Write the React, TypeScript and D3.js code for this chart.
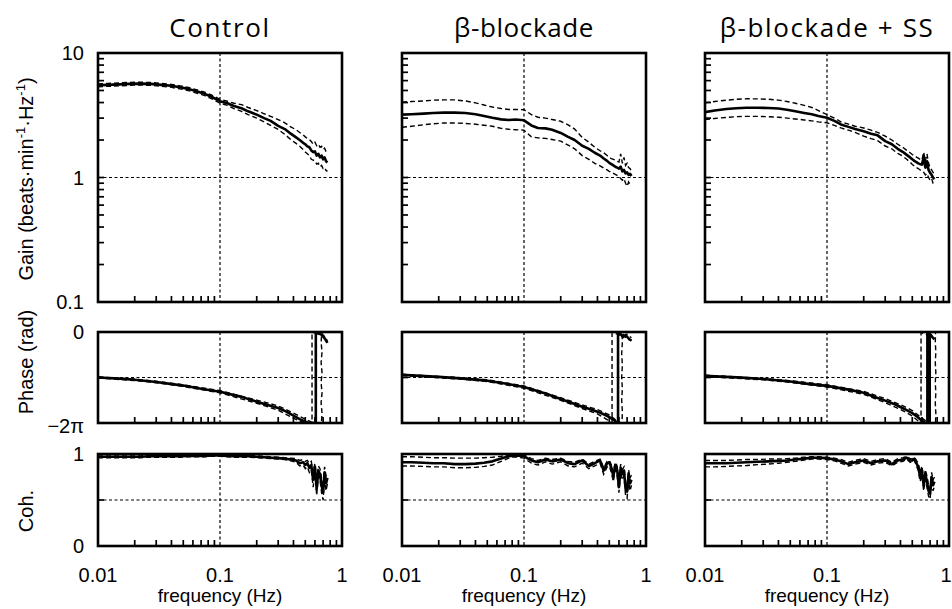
import React from 'react';
import * as d3 from 'd3';

// ---------------- data ----------------
const titles = ['Control', 'β-blockade', 'β-blockade + SS'];

const freq = [0.01, 0.012, 0.015, 0.018, 0.022, 0.027, 0.033, 0.04, 0.047, 0.055, 0.065, 0.075, 0.085, 0.1, 0.115, 0.13, 0.15, 0.17, 0.2, 0.23, 0.26, 0.3, 0.34, 0.38, 0.42, 0.45, 0.48, 0.5, 0.52, 0.54, 0.56, 0.58, 0.6, 0.62, 0.64, 0.66, 0.68, 0.7, 0.72, 0.74, 0.76];

// Gain (beats·min-1·Hz-1)
const gainControlMean = [5.5, 5.55, 5.6, 5.65, 5.68, 5.65, 5.55, 5.45, 5.3, 5.15, 4.9, 4.7, 4.45, 4.1, 3.95, 3.75, 3.6, 3.4, 3.2, 3.0, 2.85, 2.6, 2.45, 2.25, 2.1, 2.0, 1.9, 1.85, 1.78, 1.75, 1.65, 1.6, 1.62, 1.5, 1.55, 1.45, 1.5, 1.4, 1.45, 1.35, 1.32];
const gainControlHi = [5.65, 5.7, 5.75, 5.8, 5.83, 5.8, 5.7, 5.6, 5.45, 5.3, 5.05, 4.85, 4.6, 4.25, 4.1, 3.95, 3.85, 3.65, 3.45, 3.25, 3.1, 2.92, 2.75, 2.55, 2.42, 2.3, 2.2, 2.12, 2.05, 2.02, 1.95, 1.85, 1.92, 1.8, 1.85, 1.75, 1.78, 1.68, 1.72, 1.62, 1.6];
const gainControlLo = [5.35, 5.4, 5.45, 5.5, 5.53, 5.5, 5.4, 5.3, 5.15, 5.0, 4.75, 4.55, 4.3, 3.95, 3.8, 3.58, 3.4, 3.2, 3.0, 2.8, 2.62, 2.43, 2.22, 2.02, 1.88, 1.78, 1.68, 1.6, 1.55, 1.5, 1.4, 1.38, 1.36, 1.28, 1.3, 1.22, 1.25, 1.18, 1.2, 1.14, 1.12];

const gainBetaMean = [3.2, 3.22, 3.26, 3.3, 3.32, 3.32, 3.3, 3.22, 3.12, 3.02, 2.93, 2.9, 2.92, 2.88, 2.62, 2.5, 2.48, 2.42, 2.28, 2.12, 2.0, 1.8, 1.7, 1.58, 1.5, 1.42, 1.36, 1.31, 1.28, 1.25, 1.22, 1.2, 1.18, 1.22, 1.12, 1.15, 1.08, 1.1, 1.05, 1.07, 1.03];
const gainBetaHi = [4.03, 4.08, 4.12, 4.18, 4.2, 4.2, 4.12, 3.98, 3.82, 3.68, 3.58, 3.52, 3.52, 3.5, 3.2, 3.05, 3.0, 2.92, 2.83, 2.65, 2.45, 2.1, 1.92, 1.75, 1.64, 1.58, 1.5, 1.45, 1.42, 1.4, 1.38, 1.35, 1.33, 1.55, 1.3, 1.45, 1.25, 1.3, 1.2, 1.18, 1.12];
const gainBetaLo = [2.53, 2.58, 2.65, 2.7, 2.74, 2.74, 2.72, 2.68, 2.63, 2.58, 2.48, 2.44, 2.42, 2.4, 2.12, 2.08, 2.06, 2.02, 1.96, 1.82, 1.7, 1.5, 1.4, 1.3, 1.24, 1.19, 1.15, 1.12, 1.1, 1.08, 1.06, 1.04, 1.02, 0.98, 0.95, 0.98, 0.9, 0.85, 0.92, 0.88, 0.9];

const gainSSMean = [3.35, 3.45, 3.55, 3.6, 3.63, 3.63, 3.62, 3.58, 3.5, 3.4, 3.3, 3.22, 3.12, 3.02, 2.85, 2.67, 2.55, 2.45, 2.35, 2.25, 2.18, 1.96, 1.85, 1.7, 1.6, 1.52, 1.45, 1.4, 1.36, 1.33, 1.3, 1.28, 1.27, 1.45, 1.2, 1.35, 1.15, 1.09, 1.05, 1.0, 0.97];
const gainSSHi = [3.98, 4.08, 4.18, 4.25, 4.29, 4.28, 4.25, 4.18, 4.08, 3.95, 3.8, 3.65, 3.45, 3.2, 3.0, 2.8, 2.68, 2.58, 2.5, 2.4, 2.3, 2.15, 2.0, 1.85, 1.74, 1.65, 1.58, 1.53, 1.49, 1.46, 1.43, 1.4, 1.38, 1.6, 1.35, 1.55, 1.3, 1.2, 1.15, 1.1, 1.05];
const gainSSLo = [2.92, 2.98, 3.04, 3.08, 3.1, 3.1, 3.08, 3.05, 3.0, 2.95, 2.9, 2.85, 2.8, 2.75, 2.62, 2.5, 2.4, 2.3, 2.15, 2.05, 1.98, 1.79, 1.7, 1.56, 1.48, 1.4, 1.33, 1.27, 1.24, 1.2, 1.18, 1.15, 1.13, 1.1, 1.05, 1.08, 1.0, 0.95, 0.98, 0.9, 0.85];

// Coherence
const cohControlMean = [0.97, 0.97, 0.97, 0.97, 0.97, 0.975, 0.975, 0.975, 0.975, 0.98, 0.98, 0.98, 0.985, 0.985, 0.98, 0.975, 0.975, 0.975, 0.97, 0.965, 0.96, 0.955, 0.95, 0.94, 0.93, 0.9, 0.91, 0.88, 0.9, 0.85, 0.88, 0.72, 0.86, 0.62, 0.82, 0.78, 0.66, 0.58, 0.8, 0.68, 0.74];
const cohControlHi = [0.98, 0.98, 0.98, 0.98, 0.98, 0.985, 0.985, 0.985, 0.985, 0.99, 0.99, 0.99, 0.995, 0.995, 0.99, 0.985, 0.985, 0.985, 0.98, 0.975, 0.97, 0.965, 0.96, 0.955, 0.95, 0.93, 0.94, 0.92, 0.93, 0.9, 0.92, 0.8, 0.9, 0.7, 0.87, 0.84, 0.74, 0.68, 0.86, 0.76, 0.8];
const cohControlLo = [0.96, 0.96, 0.96, 0.96, 0.96, 0.965, 0.965, 0.965, 0.965, 0.97, 0.97, 0.97, 0.975, 0.975, 0.97, 0.965, 0.965, 0.965, 0.96, 0.955, 0.95, 0.945, 0.94, 0.925, 0.91, 0.87, 0.88, 0.84, 0.86, 0.8, 0.83, 0.64, 0.8, 0.55, 0.76, 0.72, 0.58, 0.5, 0.74, 0.6, 0.68];

const cohBetaMean = [0.91, 0.91, 0.905, 0.9, 0.9, 0.89, 0.89, 0.895, 0.905, 0.92, 0.95, 0.975, 0.985, 0.975, 0.93, 0.91, 0.94, 0.92, 0.94, 0.9, 0.89, 0.93, 0.87, 0.9, 0.93, 0.82, 0.9, 0.91, 0.85, 0.76, 0.88, 0.83, 0.64, 0.85, 0.78, 0.82, 0.62, 0.59, 0.78, 0.68, 0.72];
const cohBetaHi = [0.97, 0.97, 0.965, 0.96, 0.96, 0.955, 0.955, 0.955, 0.96, 0.965, 0.975, 0.99, 0.995, 0.99, 0.95, 0.93, 0.955, 0.94, 0.955, 0.92, 0.91, 0.945, 0.89, 0.92, 0.945, 0.85, 0.92, 0.93, 0.88, 0.8, 0.91, 0.87, 0.7, 0.89, 0.83, 0.86, 0.68, 0.66, 0.83, 0.74, 0.77];
const cohBetaLo = [0.87, 0.87, 0.865, 0.86, 0.86, 0.85, 0.85, 0.855, 0.865, 0.88, 0.92, 0.955, 0.97, 0.955, 0.9, 0.88, 0.915, 0.89, 0.915, 0.87, 0.86, 0.9, 0.84, 0.87, 0.9, 0.78, 0.86, 0.87, 0.8, 0.7, 0.83, 0.77, 0.58, 0.8, 0.72, 0.76, 0.55, 0.52, 0.72, 0.6, 0.66];

const cohSSMean = [0.9, 0.9, 0.9, 0.905, 0.91, 0.915, 0.92, 0.925, 0.93, 0.94, 0.95, 0.96, 0.96, 0.955, 0.94, 0.92, 0.89, 0.91, 0.93, 0.9, 0.92, 0.93, 0.89, 0.93, 0.94, 0.96, 0.93, 0.93, 0.95, 0.9, 0.86, 0.75, 0.82, 0.66, 0.78, 0.7, 0.6, 0.57, 0.75, 0.66, 0.7];
const cohSSHi = [0.93, 0.93, 0.93, 0.935, 0.94, 0.94, 0.945, 0.945, 0.95, 0.955, 0.965, 0.97, 0.97, 0.965, 0.955, 0.94, 0.91, 0.93, 0.95, 0.92, 0.94, 0.95, 0.91, 0.95, 0.96, 0.975, 0.95, 0.95, 0.965, 0.93, 0.9, 0.8, 0.87, 0.72, 0.83, 0.76, 0.66, 0.63, 0.8, 0.72, 0.75];
const cohSSLo = [0.86, 0.86, 0.865, 0.87, 0.875, 0.885, 0.89, 0.9, 0.91, 0.92, 0.935, 0.945, 0.945, 0.94, 0.925, 0.9, 0.87, 0.89, 0.91, 0.88, 0.9, 0.91, 0.87, 0.91, 0.92, 0.945, 0.91, 0.91, 0.935, 0.87, 0.82, 0.7, 0.77, 0.6, 0.73, 0.64, 0.54, 0.51, 0.7, 0.6, 0.65];

// Phase (rad): [frequency, phase] pairs, wrapped into [-2π, 0]
const phaseControlMean = [[0.01, -3.14], [0.015, -3.22], [0.02, -3.3], [0.03, -3.45], [0.05, -3.7], [0.07, -3.92], [0.1, -4.12], [0.15, -4.48], [0.2, -4.81], [0.25, -5.05], [0.3, -5.25], [0.35, -5.5], [0.4, -5.78], [0.45, -6.02], [0.5, -6.2], [0.54, -6.28], [0.61, -6.28], [0.61, -0.08], [0.64, -0.1], [0.67, -0.15], [0.7, -0.3], [0.73, -0.5], [0.76, -0.75]];
const phaseControlLo = [[0.01, -3.18], [0.02, -3.35], [0.03, -3.5], [0.05, -3.76], [0.1, -4.2], [0.2, -4.92], [0.3, -5.4], [0.4, -5.95], [0.46, -6.2], [0.5, -6.28], [0.568, -6.28], [0.568, -0.03], [0.6, -0.06], [0.65, -0.1], [0.7, -0.25], [0.76, -0.45]];
const phaseControlHi = [[0.01, -3.1], [0.02, -3.26], [0.03, -3.4], [0.05, -3.64], [0.1, -4.04], [0.2, -4.7], [0.3, -5.1], [0.4, -5.6], [0.5, -6.02], [0.56, -6.2], [0.6, -6.28], [0.678, -6.28], [0.686, -5.6], [0.674, -4.9], [0.686, -4.2], [0.674, -3.5], [0.686, -2.8], [0.674, -2.1], [0.686, -1.4], [0.674, -0.7], [0.682, -0.1], [0.7, -0.2], [0.73, -0.45], [0.76, -0.6]];

const phaseBetaMean = [[0.01, -2.96], [0.02, -3.1], [0.03, -3.2], [0.05, -3.36], [0.07, -3.55], [0.1, -3.8], [0.15, -4.25], [0.2, -4.63], [0.25, -4.92], [0.3, -5.16], [0.35, -5.33], [0.4, -5.5], [0.45, -5.68], [0.5, -5.87], [0.55, -6.1], [0.58, -6.28], [0.59, -6.28], [0.59, -0.05], [0.62, -0.15], [0.65, -0.35], [0.68, -0.2], [0.72, -0.45], [0.76, -0.6]];
const phaseBetaLo = [[0.01, -3.0], [0.03, -3.25], [0.05, -3.42], [0.1, -3.88], [0.2, -4.72], [0.3, -5.28], [0.4, -5.65], [0.48, -6.05], [0.52, -6.28], [0.527, -6.28], [0.527, -0.05], [0.56, -0.1], [0.6, -0.2], [0.65, -0.3], [0.7, -0.15], [0.76, -0.4]];
const phaseBetaHi = [[0.01, -2.92], [0.03, -3.15], [0.05, -3.3], [0.1, -3.72], [0.2, -4.54], [0.3, -5.04], [0.4, -5.36], [0.5, -5.72], [0.56, -6.05], [0.62, -6.28], [0.636, -6.28], [0.64, -5.5], [0.632, -4.7], [0.64, -3.9], [0.632, -3.1], [0.64, -2.3], [0.632, -1.5], [0.64, -0.7], [0.636, -0.05], [0.66, -0.25], [0.7, -0.5], [0.76, -0.55]];

const phaseSSMean = [[0.01, -3.03], [0.02, -3.15], [0.03, -3.25], [0.05, -3.42], [0.07, -3.58], [0.1, -3.72], [0.15, -3.98], [0.2, -4.2], [0.25, -4.5], [0.3, -4.74], [0.35, -4.95], [0.4, -5.18], [0.45, -5.4], [0.5, -5.6], [0.55, -5.85], [0.6, -6.12], [0.64, -6.28], [0.665, -6.28], [0.665, -0.05], [0.69, -0.05], [0.69, -6.28], [0.695, -6.28], [0.695, -0.1], [0.73, -0.35], [0.76, -0.5]];
const phaseSSLo = [[0.01, -3.08], [0.03, -3.3], [0.05, -3.48], [0.1, -3.8], [0.2, -4.3], [0.3, -4.88], [0.4, -5.34], [0.5, -5.8], [0.56, -6.15], [0.58, -6.28], [0.59, -6.28], [0.59, -0.05], [0.62, -0.1], [0.66, -0.2], [0.7, -0.3], [0.76, -0.45]];
const phaseSSHi = [[0.01, -2.98], [0.03, -3.2], [0.05, -3.36], [0.1, -3.64], [0.2, -4.1], [0.3, -4.6], [0.4, -5.02], [0.5, -5.42], [0.6, -5.95], [0.66, -6.2], [0.7, -6.28], [0.775, -6.28], [0.78, -5.6], [0.772, -4.9], [0.78, -4.2], [0.772, -3.5], [0.78, -2.8], [0.772, -2.1], [0.78, -1.4], [0.772, -0.7], [0.775, -0.05]];

const gainTickLabels = ['10', '1', '0.1'];
const gainTickValues = [10, 1, 0.1];
const phaseTickLabels = ['0', '−2π'];
const phaseTickValues = [0, -2 * Math.PI];
const cohTickLabels = ['1', '0'];
const cohTickValues = [1, 0];
const xTickLabels = ['0.01', '0.1', '1'];
const xTickValues = [0.01, 0.1, 1];

// ---------------- layout ----------------
const PANEL_X = [98, 402, 705];
const PANEL_W = 244;
const GAIN_Y = [53, 302];
const PHASE_Y = [332, 423];
const COH_Y = [454, 546];

const panels = [
  {
    gain: [gainControlMean, gainControlHi, gainControlLo],
    coh: [cohControlMean, cohControlHi, cohControlLo],
    phase: [phaseControlMean, phaseControlHi, phaseControlLo],
  },
  {
    gain: [gainBetaMean, gainBetaHi, gainBetaLo],
    coh: [cohBetaMean, cohBetaHi, cohBetaLo],
    phase: [phaseBetaMean, phaseBetaHi, phaseBetaLo],
  },
  {
    gain: [gainSSMean, gainSSHi, gainSSLo],
    coh: [cohSSMean, cohSSHi, cohSSLo],
    phase: [phaseSSMean, phaseSSHi, phaseSSLo],
  },
];

const SANS = '"Liberation Sans", Arial, sans-serif';
const TITLE_FONT = '"Open Sans", "DejaVu Sans", sans-serif';

function SubPanel({ id, x, y, values, pairs, gridY, minorY }) {
  const [x0, x1] = x.range();
  const [yb, yt] = y.range();
  const line = d3
    .line()
    .x((d) => x(d[0]))
    .y((d) => y(d[1]));
  const series = pairs
    ? pairs
    : values.map((arr) => freq.map((f, i) => [f, arr[i]]).filter((d) => d[1] != null));
  const xMinor = x.ticks().filter((t) => ![0.01, 0.1, 1].some((m) => Math.abs(t - m) < 1e-9));
  return (
    <g>
      <defs>
        <clipPath id={id}>
          <rect x={x0} y={yt - 1} width={x1 - x0} height={yb - yt + 2} />
        </clipPath>
      </defs>
      <line x1={x(0.1)} x2={x(0.1)} y1={yt} y2={yb} stroke="#000" strokeWidth={1.2} strokeDasharray="3,2.5" />
      <line x1={x0} x2={x1} y1={y(gridY)} y2={y(gridY)} stroke="#000" strokeWidth={1.2} strokeDasharray="3,2.5" />
      {xMinor.map((t, i) => (
        <line key={'xt' + i} x1={x(t)} x2={x(t)} y1={yb} y2={yb - 6} stroke="#000" strokeWidth={1.7} />
      ))}
      {(minorY || []).map((t, i) => (
        <line key={'yt' + i} x1={x0} x2={x0 + 6} y1={y(t)} y2={y(t)} stroke="#000" strokeWidth={1.7} />
      ))}
      <line x1={x0} x2={x0 + 6} y1={y(gridY)} y2={y(gridY)} stroke="#000" strokeWidth={1.7} />
      <g clipPath={`url(#${id})`}>
        {series.slice(1).map((s, i) => (
          <path key={'ci' + i} d={line(s)} fill="none" stroke="#000" strokeWidth={1.4} strokeDasharray="5,3" />
        ))}
        <path d={line(series[0])} fill="none" stroke="#000" strokeWidth={2.6} strokeLinejoin="round" />
      </g>
      <rect x={x0} y={yt} width={x1 - x0} height={yb - yt} fill="none" stroke="#000" strokeWidth={2.6} />
    </g>
  );
}

export default function App() {
  return (
    <svg
      width={952}
      height={609}
      style={{ position: 'absolute', left: 0, top: 0, background: '#fff' }}
    >
      <rect x={0} y={0} width={952} height={609} fill="#fff" />
      {panels.map((p, k) => {
        const x = d3.scaleLog().domain([0.01, 1]).range([PANEL_X[k], PANEL_X[k] + PANEL_W]);
        const yGain = d3.scaleLog().domain([0.1, 10]).range([GAIN_Y[1], GAIN_Y[0]]);
        const yPhase = d3.scaleLinear().domain([-2 * Math.PI, 0]).range([PHASE_Y[1], PHASE_Y[0]]);
        const yCoh = d3.scaleLinear().domain([0, 1]).range([COH_Y[1], COH_Y[0]]);
        const gainMinor = yGain.ticks().filter((t) => ![0.1, 1, 10].some((m) => Math.abs(t - m) < 1e-9));
        const cx = x(0.1);
        return (
          <g key={k}>
            <text
              x={cx}
              y={37}
              textAnchor="middle"
              fontFamily={TITLE_FONT}
              fontSize={26}
              letterSpacing={k === 0 ? 1.6 : k === 2 ? 1.6 : 0.6}
              fill="#000"
            >
              {titles[k]}
            </text>
            <SubPanel id={'g' + k} x={x} y={yGain} values={p.gain} gridY={1} minorY={gainMinor} />
            <SubPanel id={'p' + k} x={x} y={yPhase} pairs={p.phase} gridY={-Math.PI} />
            <SubPanel id={'c' + k} x={x} y={yCoh} values={p.coh} gridY={0.5} />
            {xTickValues.map((v, i) => (
              <text
                key={'xl' + i}
                x={Math.min(x(v), 946)}
                y={582}
                textAnchor="middle"
                fontFamily={SANS}
                fontSize={20}
                fill="#000"
              >
                {xTickLabels[i]}
              </text>
            ))}
            <text x={cx} y={602} textAnchor="middle" fontFamily={SANS} fontSize={19} fill="#000">
              frequency (Hz)
            </text>
            {k === 0 && (
              <g fontFamily={SANS} fontSize={20} fill="#000" textAnchor="end">
                {gainTickValues.map((v, i) => (
                  <text key={'gl' + i} x={84} y={yGain(v) + 7}>
                    {gainTickLabels[i]}
                  </text>
                ))}
                {phaseTickValues.map((v, i) => (
                  <text key={'pl' + i} x={84} y={yPhase(v) + 7 + (i === 1 ? 3 : 0)}>
                    {phaseTickLabels[i]}
                  </text>
                ))}
                {cohTickValues.map((v, i) => (
                  <text key={'cl' + i} x={84} y={yCoh(v) + 7}>
                    {cohTickLabels[i]}
                  </text>
                ))}
              </g>
            )}
          </g>
        );
      })}
      <g fontFamily={SANS} fontSize={20} fill="#000">
        <text transform="translate(33,179) rotate(-90)" textAnchor="middle">
          <tspan>Gain (beats·min</tspan>
          <tspan fontSize={13} dy={-8}>-1</tspan>
          <tspan dy={8}>·Hz</tspan>
          <tspan fontSize={13} dy={-8}>-1</tspan>
          <tspan dy={8}>)</tspan>
        </text>
        <text transform="translate(33,362) rotate(-90)" textAnchor="middle">
          Phase (rad)
        </text>
        <text transform="translate(33,511) rotate(-90)" textAnchor="middle">
          Coh.
        </text>
      </g>
    </svg>
  );
}
